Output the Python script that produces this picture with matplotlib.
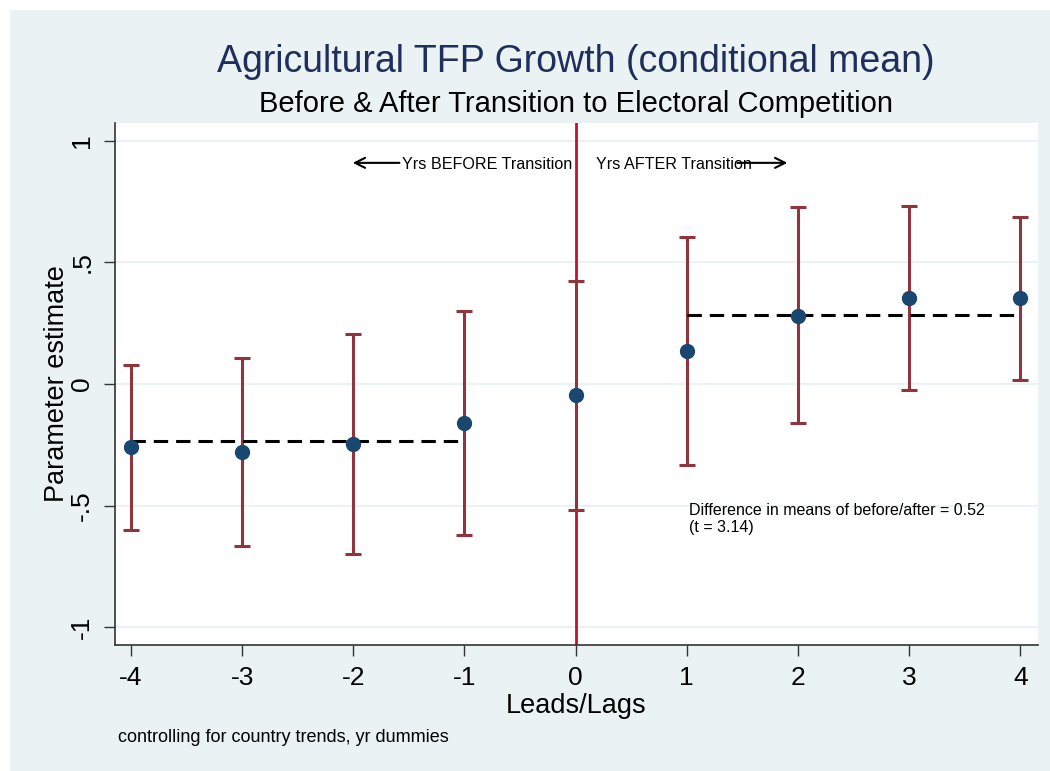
import matplotlib.pyplot as plt
from matplotlib.patches import Rectangle

# event-time coefficients with 95% bounds
leads_lags = [-4, -3, -2, -1, 0, 1, 2, 3, 4]
estimate = [-0.259, -0.280, -0.247, -0.160, -0.045, 0.136, 0.281, 0.354, 0.354]
ci_upper = [0.078, 0.107, 0.206, 0.300, 0.424, 0.606, 0.728, 0.733, 0.689]
ci_lower = [-0.601, -0.667, -0.700, -0.620, -0.519, -0.333, -0.162, -0.026, 0.016]

# means of the pre and post periods
before_x = [-4, -1]
before_mean = -0.235
after_x = [1, 4]
after_mean = 0.283

yticks = [-1, -0.5, 0, 0.5, 1]
ytick_labels = ["-1", "-.5", "0", ".5", "1"]

bg = "#eaf2f3"
navy = "#1a476f"
maroon = "#90353b"

plt.rcParams['font.family'] = ['Liberation Sans', 'DejaVu Sans']

fig = plt.figure(figsize=(10.5, 7.71), dpi=100, facecolor="white")
fig.patches.append(Rectangle((10 / 1050, 0), 1, 1 - 10 / 771, transform=fig.transFigure,
                             facecolor=bg, edgecolor="none", zorder=-10))
ax = fig.add_axes([115 / 1050, 1 - 645 / 771, 923 / 1050, 522 / 771])
ax.set_facecolor("white")

for y in yticks:
    ax.axhline(y, color=bg, lw=1.5, zorder=0)

ax.axvline(0, color="#c8102e", lw=2, zorder=1)

err_lo = [e - l for e, l in zip(estimate, ci_lower)]
err_hi = [u - e for e, u in zip(estimate, ci_upper)]
ax.errorbar(leads_lags, estimate, yerr=[err_lo, err_hi], fmt="none",
            ecolor=maroon, elinewidth=2.2, capsize=6, capthick=2.2, zorder=2)

ax.plot(before_x, [before_mean] * 2, color="black", lw=2.2, dashes=(4.7, 2.6), zorder=3)
ax.plot(after_x, [after_mean] * 2, color="black", lw=2.2, dashes=(4.7, 2.6), zorder=3)

ax.plot(leads_lags, estimate, "o", color=navy, ms=10, zorder=4)

# direction arrows
ax.annotate("", xy=(-2.03, 0.91), xytext=(-1.56, 0.91),
            arrowprops=dict(arrowstyle="->", color="black", lw=1.5, mutation_scale=18))
ax.annotate("", xy=(1.93, 0.91), xytext=(1.43, 0.91),
            arrowprops=dict(arrowstyle="->", color="black", lw=1.5, mutation_scale=18))
ax.text(-1.56, 0.905, "Yrs BEFORE Transition", fontsize=11.6, va="center", ha="left")
ax.text(0.18, 0.905, "Yrs AFTER Transition", fontsize=11.6, va="center", ha="left")

ax.text(1.02, -0.49, "Difference in means of before/after = 0.52\n(t = 3.14)",
        fontsize=11.5, va="top", ha="left", linespacing=1.2)

ax.set_xlim(-4.144, 4.16)
ax.set_ylim(-1.074, 1.074)
ax.set_xticks(leads_lags)
ax.set_xticklabels([str(v) for v in leads_lags])
ax.set_yticks(yticks)
ax.set_yticklabels(ytick_labels, rotation=90, va="center")
ax.tick_params(axis="both", labelsize=19, length=8, width=1, color="#333333", pad=7)

for side in ["top", "right"]:
    ax.spines[side].set_visible(False)
for side in ["left", "bottom"]:
    ax.spines[side].set_color("#333333")
    ax.spines[side].set_linewidth(1.2)

ax.set_xlabel("Leads/Lags", fontsize=19.5, labelpad=2)
ax.set_ylabel("Parameter estimate", fontsize=19.5, labelpad=0)

fig.text(576 / 1050, 1 - 62 / 771, "Agricultural TFP Growth (conditional mean)",
         fontsize=27, color="#1f2f5c", ha="center", va="center")
fig.text(576 / 1050, 1 - 104 / 771, "Before & After Transition to Electoral Competition",
         fontsize=21, color="black", ha="center", va="center")
fig.text(118 / 1050, 1 - 738 / 771, "controlling for country trends, yr dummies",
         fontsize=13, ha="left", va="center")

fig.savefig("out.png", dpi=100, facecolor=fig.get_facecolor())
